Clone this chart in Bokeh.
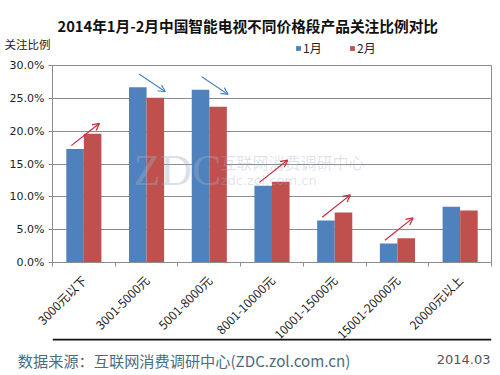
import math
from bokeh.plotting import figure
from bokeh.layouts import column
from bokeh.models import (ColumnDataSource, FixedTicker, PrintfTickFormatter, Label,
                          Legend, LegendItem, Arrow, OpenHead, Range1d, Span)
from bokeh.embed import file_html
from bokeh.resources import INLINE

categories = ["3000元以下", "3001-5000元", "5001-8000元", "8001-10000元",
              "10001-15000元", "15001-20000元", "20000元以上"]
jan = [17.3, 26.7, 26.3, 11.7, 6.4, 2.9, 8.5]
feb = [19.6, 25.1, 23.7, 12.3, 7.6, 3.7, 7.9]
y_ticks = [0, 5, 10, 15, 20, 25, 30]
arrow_cats = [0, 1, 2, 3, 4, 5]   # categories annotated with a trend arrow
title_text = "2014年1月-2月中国智能电视不同价格段产品关注比例对比"
y_caption = "关注比例"
source_text = "数据来源：互联网消费调研中心(ZDC.zol.com.cn)"
date_text = "2014.03"

BLUE = "#4f81bd"
RED = "#c0504d"
GRID = "#8c8c8c"
CJK = "Noto Sans CJK SC"
W = 500
LEFT, RIGHT = 52, 9

n = len(categories)
centers = [i + 0.5 for i in range(n)]
off = 0.14
w = 0.28

src = ColumnDataSource(dict(
    xb=[c - off for c in centers], xr=[c + off for c in centers],
    jan=jan, feb=feb))

# ---------------- header: title, caption, legend ----------------
H1 = 56
T1 = 36
hdr = figure(width=W, height=H1, output_backend="svg", toolbar_location=None,
             x_range=Range1d(LEFT, W - RIGHT), y_range=Range1d(H1, T1),
             x_axis_type=None, min_border_left=LEFT, min_border_right=RIGHT,
             min_border_top=T1, min_border_bottom=0,
             title=title_text)
hdr.outline_line_color = None
hdr.background_fill_color = "white"
hdr.border_fill_color = "white"
hdr.ygrid.visible = False
hdr.title.align = "left"
hdr.title.offset = 5
hdr.title.text_font = CJK
hdr.title.text_font_style = "bold"
hdr.title.text_font_size = "14.7px"
hdr.title.text_color = "#111111"
hdr.title.standoff = 2
# axis caption shown as the header's single y tick label
hdr.yaxis.ticker = FixedTicker(ticks=[43])
hdr.yaxis.major_label_overrides = {43: y_caption}
hdr.yaxis.axis_line_color = None
hdr.yaxis.major_tick_line_color = None
hdr.yaxis.minor_tick_line_color = None
hdr.yaxis.major_tick_out = 0
hdr.yaxis.major_label_standoff = 2
hdr.yaxis.major_label_text_font = CJK
hdr.yaxis.major_label_text_font_size = "11.5px"
hdr.yaxis.major_label_text_color = "#222222"
# legend proxies (same data, not shown) so the legend can live in the header
hb1 = hdr.vbar(x="xb", top="jan", width=w, source=src, fill_color=BLUE,
               line_color=None, visible=False)
hb2 = hdr.vbar(x="xr", top="feb", width=w, source=src, fill_color=RED,
               line_color=None, visible=False)
legend = Legend(items=[LegendItem(label="1月", renderers=[hb1]),
                       LegendItem(label="2月", renderers=[hb2])],
                orientation="horizontal", location=(243, 0),
                padding=0, margin=0, spacing=26, glyph_width=6, glyph_height=6,
                label_standoff=2, label_height=12,
                label_text_font=CJK, label_text_font_size="12px",
                label_text_color="#222222", label_text_baseline="middle",
                border_line_color=None, background_fill_alpha=0)
hdr.add_layout(legend, "center")

# ---------------- main chart ----------------
MB = 92
H2 = 9 + 197 + MB
p = figure(width=W, height=H2, output_backend="svg", toolbar_location=None,
           x_range=Range1d(0, n), y_range=Range1d(0, 30),
           min_border_left=LEFT, min_border_right=RIGHT, min_border_top=9,
           min_border_bottom=MB)
p.background_fill_color = "white"
p.border_fill_alpha = 0
p.outline_line_color = GRID
p.outline_line_width = 1

b1 = p.vbar(x="xb", top="jan", width=w, source=src, fill_color=BLUE, line_color=None)
b2 = p.vbar(x="xr", top="feb", width=w, source=src, fill_color=RED, line_color=None)

p.xaxis.ticker = FixedTicker(ticks=centers, minor_ticks=list(range(n + 1)))
p.xaxis.major_label_overrides = {c: lab for c, lab in zip(centers, categories)}
p.xaxis.major_label_orientation = math.pi / 4
p.xaxis.major_tick_line_color = None
p.xaxis.major_tick_out = 0
p.xaxis.major_tick_in = 0
p.xaxis.minor_tick_line_color = GRID
p.xaxis.minor_tick_out = 4
p.xaxis.minor_tick_in = 0
p.xaxis.axis_line_color = GRID
p.xaxis.major_label_text_font = CJK
p.xaxis.major_label_text_font_size = "12px"
p.xaxis.major_label_text_color = "#222222"
p.xaxis.major_label_standoff = 11

p.yaxis.ticker = FixedTicker(ticks=y_ticks)
p.yaxis.formatter = PrintfTickFormatter(format="%.1f%%")
p.yaxis.axis_line_color = GRID
p.yaxis.major_tick_line_color = GRID
p.yaxis.major_tick_out = 4
p.yaxis.major_tick_in = 0
p.yaxis.minor_tick_line_color = None
p.yaxis.major_label_text_font = "DejaVu Sans"
p.yaxis.major_label_text_font_size = "11px"
p.yaxis.major_label_text_color = "#222222"
p.yaxis.major_label_standoff = 4

p.xgrid.grid_line_color = None
p.ygrid.ticker = FixedTicker(ticks=y_ticks)
p.ygrid.grid_line_color = GRID
p.ygrid.grid_line_width = 1

# watermark
p.add_layout(Label(x=1.29, y=14.0, text="ZDC", text_font="Liberation Serif",
                   text_font_size="44px", text_color="#9fb0c4", text_alpha=0.4,
                   text_baseline="middle"))
p.add_layout(Label(x=2.68, y=15.3, text="互联网消费调研中心", text_font=CJK,
                   text_font_size="16px", text_color="#9fb0c4", text_alpha=0.35,
                   text_baseline="middle"))
p.add_layout(Label(x=2.68, y=12.5, text="zdc.zol.com.cn", text_font="DejaVu Sans",
                   text_font_size="13px", text_color="#9fb0c4", text_alpha=0.35,
                   text_baseline="middle"))

for i in arrow_cats:
    c = centers[i]
    if feb[i] >= jan[i]:
        y0 = jan[i] + 0.5
        y1 = y0 + 3.4
        x0, x1 = c - 0.2, c + 0.25
        col = "#c8283a"
    else:
        y0 = jan[i] + 2.0
        y1 = y0 - 2.7
        x0, x1 = c - 0.12, c + 0.3
        col = "#4a86c8"
    p.add_layout(Arrow(x_start=x0, y_start=y0, x_end=x1, y_end=y1,
                       line_color=col, line_width=1.2,
                       end=OpenHead(size=7, line_color=col, line_width=1.2)))

# ---------------- footer ----------------
FOOT_TOP = 338
H3 = 375 - FOOT_TOP
ftr = figure(width=W, height=H3, output_backend="svg", toolbar_location=None,
             x_range=Range1d(LEFT, W - RIGHT), y_range=Range1d(H3, 0),
             x_axis_type=None, min_border_left=LEFT, min_border_right=RIGHT,
             min_border_top=0, min_border_bottom=0)
ftr.margin = (FOOT_TOP - (H1 + H2), 0, 0, 0)
ftr.outline_line_color = None
ftr.background_fill_color = "white"
ftr.border_fill_color = "white"
ftr.ygrid.visible = False
# separator rule at the top of the footer
ftr.add_layout(Span(location=1, dimension="width", line_color="#111111",
                    line_width=2))
# source line shown as the footer's single y tick label
ftr.yaxis.ticker = FixedTicker(ticks=[21])
ftr.yaxis.major_label_overrides = {21: source_text}
ftr.yaxis.axis_line_color = None
ftr.yaxis.major_tick_line_color = None
ftr.yaxis.minor_tick_line_color = None
ftr.yaxis.major_tick_out = 0
ftr.yaxis.major_label_standoff = -298
ftr.yaxis.major_label_text_font = CJK
ftr.yaxis.major_label_text_font_size = "15.2px"
ftr.yaxis.major_label_text_color = "#4a6e7e"
ftr.add_layout(Label(x=W - RIGHT - 1, y=21, text=date_text, text_font="DejaVu Sans",
                     text_font_size="13px", text_color="#555555",
                     text_align="right", text_baseline="middle"))

page = column(hdr, p, ftr, spacing=0)
open("out.html", "w").write(file_html(page, INLINE))
